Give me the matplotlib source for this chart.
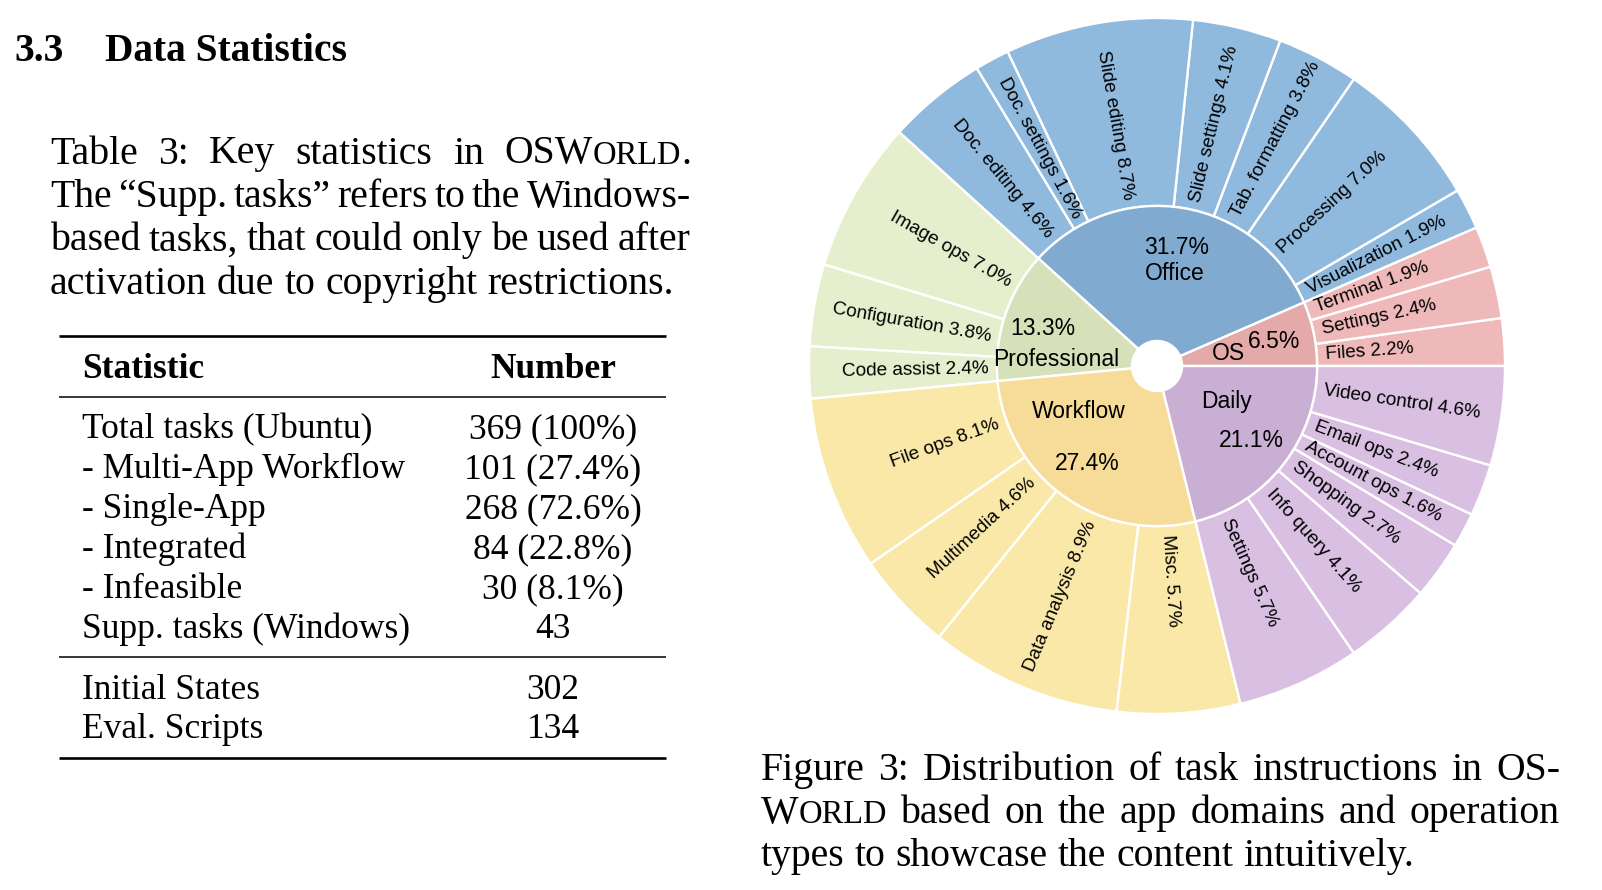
import matplotlib
matplotlib.use("Agg")
import matplotlib.pyplot as plt
import numpy as np

# ---------------- data ----------------
heading_num = "3.3"
heading_title = "Data Statistics"

table_caption = [
    "Table 3:  Key statistics in OSWORLD.",
    "The \u201cSupp. tasks\u201d refers to the Windows-",
    "based tasks, that could only be used after",
    "activation due to copyright restrictions.",
]
col_headers = ["Statistic", "Number"]
stat_names = ["Total tasks (Ubuntu)", "- Multi-App Workflow", "- Single-App",
              "- Integrated", "- Infeasible", "Supp. tasks (Windows)"]
stat_values = ["369 (100%)", "101 (27.4%)", "268 (72.6%)", "84 (22.8%)",
               "30 (8.1%)", "43"]
extra_names = ["Initial States", "Eval. Scripts"]
extra_values = ["302", "134"]

figure_caption = [
    "Figure 3: Distribution of task instructions in OS-",
    "WORLD based on the app domains and operation",
    "types to showcase the content intuitively.",
]

# sunburst, counter-clockwise from 3 o'clock
domains = ["OS", "Office", "Professional", "Workflow", "Daily"]
domain_pct = [6.5, 31.7, 13.3, 27.4, 21.1]

os_ops = ["Files", "Settings", "Terminal"]
os_pct = [2.2, 2.4, 1.9]
office_ops = ["Visualization", "Processing", "Tab. formatting", "Slide settings",
              "Slide editing", "Doc. settings", "Doc. editing"]
office_pct = [1.9, 7.0, 3.8, 4.1, 8.7, 1.6, 4.6]
prof_ops = ["Image ops", "Configuration", "Code assist"]
prof_pct = [7.0, 3.8, 2.4]
workflow_ops = ["File ops", "Multimedia", "Data analysis", "Misc."]
workflow_pct = [8.1, 4.6, 8.9, 5.7]
daily_ops = ["Settings", "Info query", "Shopping", "Account ops", "Email ops",
             "Video control"]
daily_pct = [5.7, 4.1, 2.7, 1.6, 2.4, 4.6]

# ---------------- style ----------------
W, H = 1602, 890
SERIF = ["Liberation Serif", "DejaVu Serif"]
SANS = ["Liberation Sans", "DejaVu Sans"]
SC = 0.82  # small caps scale

inner_colors = ["#E4A9A9", "#80AACF", "#D6E1BA", "#F7DB98", "#C9AFD3"]
outer_colors = ["#F0B9B9", "#8FB9DD", "#E5EFCD", "#FAE8A8", "#D9C0E2"]
# offset (px) of the domain name relative to its percentage label
name_offset = [(-46, -12), (-2, -26), (13, -31), (-9, 52), (-25, 39)]

fig = plt.figure(figsize=(W / 100, H / 100), dpi=100)
rend = fig.canvas.get_renderer()


def fx(x):
    return x / W


def fy(y):
    return 1 - y / H


def seg_width(s, size, weight="normal"):
    t = fig.text(0, 0, s, fontsize=size, family=SERIF, weight=weight)
    w = t.get_window_extent(renderer=rend).width
    t.remove()
    return w


def word_segments(w):
    i = w.find("WORLD")
    if i < 0:
        return [(w, 1.0)]
    segs = [(w[:i + 1], 1.0), ("ORLD", SC)]
    if w[i + 5:]:
        segs.append((w[i + 5:], 1.0))
    return segs


def draw_line(line, x0, y, size, x1=None, weight="normal"):
    words = line.split()
    segs = [word_segments(w) for w in words]
    widths = [sum(seg_width(s, size * f, weight) for s, f in ws) for ws in segs]
    if x1 is None or len(words) == 1:
        gap = seg_width("a b", size, weight) - seg_width("ab", size, weight)
    else:
        gap = (x1 - x0 - sum(widths)) / (len(words) - 1)
    x = x0
    for ws, wd in zip(segs, widths):
        xx = x
        for s, f in ws:
            fig.text(fx(xx), fy(y), s, fontsize=size * f, family=SERIF,
                     weight=weight, va="baseline", ha="left")
            xx += seg_width(s, size * f, weight)
        x += wd + gap


def hrule(y, x0, x1, lw):
    fig.add_artist(plt.Line2D([fx(x0), fx(x1)], [fy(y), fy(y)], color="black",
                              lw=lw, solid_capstyle="butt"))


# ---------------- left column ----------------
fig.text(fx(14), fy(61), heading_num, fontsize=28.4, family=SERIF,
         weight="bold", va="baseline")
fig.text(fx(105), fy(61), heading_title, fontsize=28.4, family=SERIF,
         weight="bold", va="baseline")

cap_size = 28.6
for i, line in enumerate(table_caption):
    right = 691 if i < len(table_caption) - 1 else None
    draw_line(line, 50, 163.5 + 43.4 * i, cap_size, right)

tab_size = 25.5
num_x = 553
hrule(336, 59, 666, 1.9)
fig.text(fx(82), fy(378), col_headers[0], fontsize=tab_size, family=SERIF,
         weight="bold", va="baseline")
fig.text(fx(num_x), fy(378), col_headers[1], fontsize=tab_size, family=SERIF,
         weight="bold", va="baseline", ha="center")
hrule(397, 59, 666, 1.1)
for i, (n, v) in enumerate(zip(stat_names, stat_values)):
    yb = 438 + 40 * i
    fig.text(fx(82), fy(yb), n, fontsize=tab_size, family=SERIF, va="baseline")
    fig.text(fx(num_x), fy(yb), v, fontsize=tab_size, family=SERIF,
             va="baseline", ha="center")
hrule(657, 59, 666, 1.1)
for i, (n, v) in enumerate(zip(extra_names, extra_values)):
    yb = 699 + 39 * i
    fig.text(fx(82), fy(yb), n, fontsize=tab_size, family=SERIF, va="baseline")
    fig.text(fx(num_x), fy(yb), v, fontsize=tab_size, family=SERIF,
             va="baseline", ha="center")
hrule(758, 59, 666, 1.9)

# ---------------- figure caption ----------------
for i, line in enumerate(figure_caption):
    right = 1560 if i < len(figure_caption) - 1 else None
    draw_line(line, 761, 780 + 43 * i, cap_size, right)

# ---------------- sunburst ----------------
cx, cy, R = 1157, 366, 348
LIM = 1.06
side = 2 * LIM * R
ax = fig.add_axes([fx(cx - side / 2), fy(cy + side / 2), side / W, side / H])

groups = [(os_ops, os_pct), (office_ops, office_pct), (prof_ops, prof_pct),
          (workflow_ops, workflow_pct), (daily_ops, daily_pct)]
inner_vals = [sum(p) for _, p in groups]
outer_vals = [v for _, p in groups for v in p]
outer_names = [n for ops, _ in groups for n in ops]
outer_cols = [outer_colors[g] for g, (_, p) in enumerate(groups) for _ in p]

R_IN = 0.46
R_HOLE = 0.072
wp = dict(edgecolor="white", linewidth=1.7)
ax.pie(outer_vals, radius=1.0, colors=outer_cols, startangle=0,
       counterclock=True, wedgeprops=dict(width=1 - R_IN, **wp))
ax.pie(inner_vals, radius=R_IN, colors=inner_colors, startangle=0,
       counterclock=True, wedgeprops=dict(width=R_IN - R_HOLE, **wp))
ax.set_xlim(-LIM, LIM)
ax.set_ylim(-LIM, LIM)
ax.set_aspect("equal")
ax.axis("off")

total = sum(outer_vals)
edges = np.concatenate([[0], np.cumsum(outer_vals)]) / total * 360
r_txt = R_IN + 0.025
for name, v, a1, a2 in zip(outer_names, outer_vals, edges[:-1], edges[1:]):
    deg = (a1 + a2) / 2
    th = np.deg2rad(deg)
    if 90 < deg < 270:
        rot, ha = deg - 180, "right"
    else:
        rot, ha = (deg if deg <= 90 else deg - 360), "left"
    ax.text(r_txt * np.cos(th), r_txt * np.sin(th), f"{name} {v:.1f}%",
            rotation=rot, rotation_mode="anchor", ha=ha, va="center",
            fontsize=13.7, family=SANS, color="black")

gedges = np.concatenate([[0], np.cumsum(inner_vals)]) / total * 360
for g, (name, pct) in enumerate(zip(domains, domain_pct)):
    th = np.deg2rad((gedges[g] + gedges[g + 1]) / 2)
    px_, py_ = 0.345 * np.cos(th), 0.345 * np.sin(th)
    ax.text(px_, py_, f"{pct:.1f}%", ha="center", va="center", fontsize=16.5,
            family=SANS, color="black")
    ox, oy = name_offset[g]
    ax.text(px_ + ox / R, py_ + oy / R, name, ha="center", va="center",
            fontsize=16.5, family=SANS, color="black")

fig.savefig("out.png", dpi=100, facecolor="white")
